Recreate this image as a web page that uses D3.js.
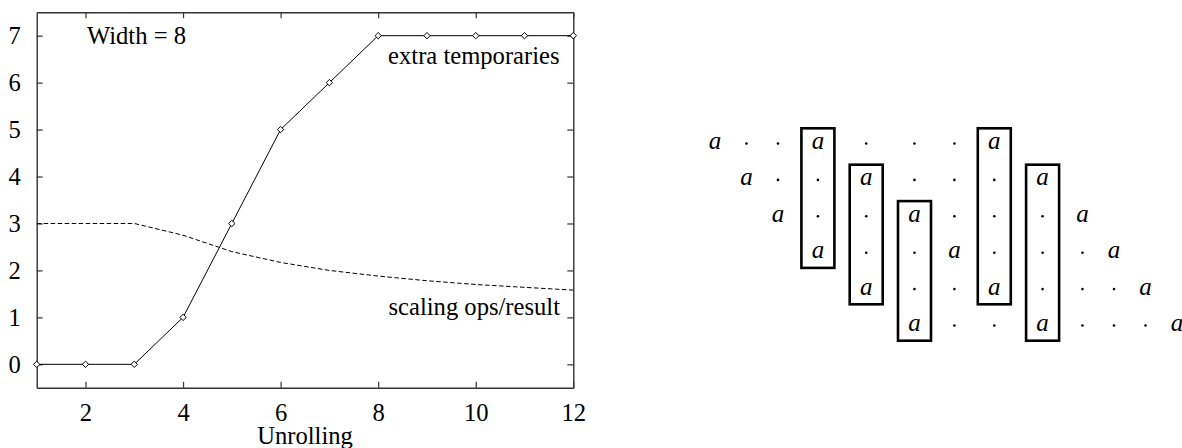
<!DOCTYPE html>
<html>
<head>
<meta charset="utf-8">
<script src="https://cdn.jsdelivr.net/npm/d3@7"></script>
<style>
  html, body { margin: 0; padding: 0; background: #fff; }
  svg { display: block; }
  svg text { font-family: "Liberation Serif", "Times New Roman", "Tinos", serif; fill: #000; }
</style>
</head>
<body>
<svg id="chart" width="1182" height="448"></svg>
<script>
// Left panel: extra temporaries and scaling ops per result vs. unrolling (width 8)
const unrolling = [1, 2, 3, 4, 5, 6, 7, 8, 9, 10, 11, 12];
const extraTemporaries = [0, 0, 0, 1, 3, 5, 6, 7, 7, 7, 7, 7];
const scalingOpsPerResult = [3, 3, 3, 2.75, 2.4, 2.17, 2.0, 1.88, 1.78, 1.7, 1.64, 1.58];
const xTickValues = [2, 4, 6, 8, 10, 12];
const yTickValues = [0, 1, 2, 3, 4, 5, 6, 7];

// Right panel: banded matrix, one string per row ("a" entry, "·" zero, " " empty)
const matrixRows = [
  "a··a···a     ",
  " a··a···a    ",
  "  a··a···a   ",
  "   a··a···a  ",
  "    a··a···a ",
  "     a··a···a"
];
// boxed column groups: [column, first row, last row]
const boxes = [[3, 0, 3], [4, 1, 4], [5, 2, 5], [7, 0, 4], [8, 1, 5]];

const SERIF = '"Liberation Serif", "Times New Roman", "Tinos", serif';
const svg = d3.select("#chart");
const FONT = 24.6;
const AXIS_COLOR = "#333";

// ---------- left plot ----------
const plot = { left: 36.7, right: 573.3, top: 12.2, bottom: 387.8 };
const x = d3.scaleLinear().domain([1, 12]).range([plot.left, plot.right]);
const y = d3.scaleLinear().domain([-0.5, 7.5]).range([plot.bottom, plot.top]);

function styleAxis(g) {
  g.attr("font-family", SERIF);
  g.select(".domain").attr("stroke", AXIS_COLOR).attr("stroke-width", 1.4);
  g.selectAll(".tick line").attr("stroke", AXIS_COLOR).attr("stroke-width", 1.2);
  g.selectAll(".tick text").attr("font-size", FONT).attr("fill", "#000");
}

svg.append("g")
  .attr("transform", `translate(0,${plot.bottom})`)
  .call(d3.axisBottom(x).tickValues(xTickValues).tickSizeInner(-6).tickSizeOuter(0).tickPadding(16))
  .call(styleAxis);
svg.append("g")
  .attr("transform", `translate(0,${plot.top})`)
  .call(d3.axisTop(x).tickValues(xTickValues).tickSizeInner(-6).tickSizeOuter(0).tickFormat(""))
  .call(styleAxis);
svg.append("g")
  .attr("transform", `translate(${plot.left},0)`)
  .call(d3.axisLeft(y).tickValues(yTickValues).tickSizeInner(-6).tickSizeOuter(0).tickPadding(16))
  .call(styleAxis);
svg.append("g")
  .attr("transform", `translate(${plot.right},0)`)
  .call(d3.axisRight(y).tickValues(yTickValues).tickSizeInner(-6).tickSizeOuter(0).tickFormat(""))
  .call(styleAxis);

// scaling ops/result (dashed)
const seriesLine = d3.line().x((d, i) => x(unrolling[i])).y(d => y(d));
svg.append("path")
  .datum(scalingOpsPerResult)
  .attr("d", seriesLine)
  .attr("fill", "none")
  .attr("stroke", "#000")
  .attr("stroke-width", 1)
  .attr("stroke-dasharray", "4.5,2.5");

// extra temporaries (solid with diamonds)
svg.append("path")
  .datum(extraTemporaries)
  .attr("d", seriesLine)
  .attr("fill", "none")
  .attr("stroke", "#000")
  .attr("stroke-width", 1);

const diamond = d3.symbol().type(d3.symbolDiamond2).size(26);
svg.append("g").selectAll("path")
  .data(extraTemporaries)
  .join("path")
  .attr("transform", (d, i) => `translate(${x(unrolling[i])},${y(d)})`)
  .attr("d", diamond)
  .attr("fill", "#fff")
  .attr("stroke", "#000")
  .attr("stroke-width", 1);

// annotations
svg.append("text").attr("x", 87).attr("y", 43.5).attr("font-size", FONT).text("Width = 8");
svg.append("text").attr("x", 559.5).attr("y", 63.5).attr("font-size", FONT)
  .attr("text-anchor", "end").text("extra temporaries");
svg.append("text").attr("x", 560).attr("y", 314.5).attr("font-size", FONT)
  .attr("text-anchor", "end").text("scaling ops/result");
svg.append("text").attr("x", (plot.left + plot.right) / 2).attr("y", 443.5)
  .attr("font-size", FONT).attr("text-anchor", "middle").text("Unrolling");

// ---------- right panel: matrix ----------
const nCols = matrixRows[0].length;
const boxedCols = new Set(boxes.map(b => b[0]));
// column slot widths in layout units: boxed columns take extra room
const slotUnits = d3.range(nCols).map(c => boxedCols.has(c) ? 1.533 : 1);
const centers = [];
let acc = 0;
slotUnits.forEach((w, i) => { centers.push(acc + w / 2); acc += w; });
const colX = d3.scaleLinear()
  .domain([centers[0], centers[nCols - 1]])
  .range([715, 1177]);
const rowY = d3.scaleLinear().domain([0, matrixRows.length - 1]).range([143.5, 325.5]);

const cells = [];
matrixRows.forEach((row, r) => {
  Array.from(row).forEach((ch, c) => {
    if (ch !== " ") cells.push({ r, c, ch });
  });
});

const mat = svg.append("g");
mat.selectAll("text.entry")
  .data(cells.filter(d => d.ch === "a"))
  .join("text")
  .attr("class", "entry")
  .attr("x", d => colX(centers[d.c]))
  .attr("y", d => rowY(d.r) + 5.5)
  .attr("text-anchor", "middle")
  .attr("font-size", 25)
  .attr("font-style", "italic")
  .text("a");

mat.selectAll("circle.zero")
  .data(cells.filter(d => d.ch === "·"))
  .join("circle")
  .attr("class", "zero")
  .attr("cx", d => colX(centers[d.c]))
  .attr("cy", d => rowY(d.r))
  .attr("r", 1.3)
  .attr("fill", "#000");

const halfBox = 16.5;
mat.selectAll("rect.box")
  .data(boxes)
  .join("rect")
  .attr("class", "box")
  .attr("x", d => colX(centers[d[0]]) - halfBox)
  .attr("y", d => rowY(d[1]) - 15.2)
  .attr("width", halfBox * 2)
  .attr("height", d => rowY(d[2]) - rowY(d[1]) + 30.4)
  .attr("fill", "none")
  .attr("stroke", "#000")
  .attr("stroke-width", 2.6);
</script>
</body>
</html>
